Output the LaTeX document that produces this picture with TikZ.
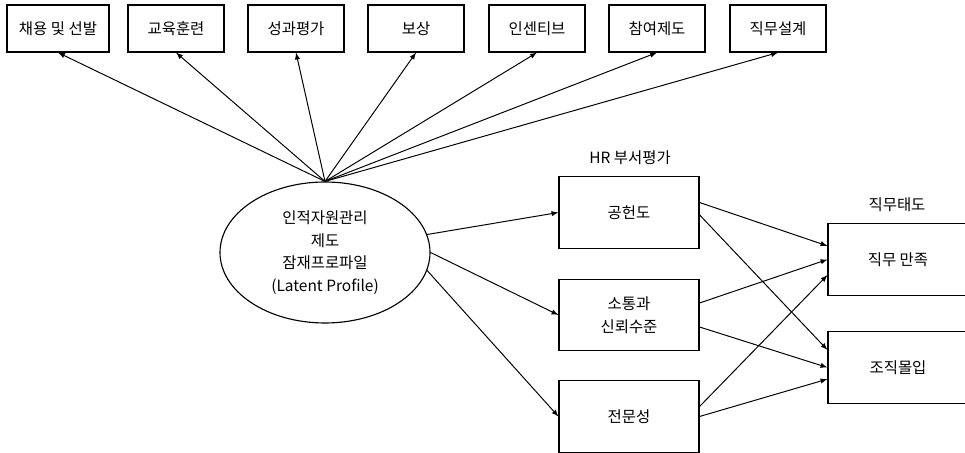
\documentclass[tikz,border=0pt]{standalone}
\usepackage{fontspec}
\setmainfont{Noto Sans CJK KR}
\usepackage{tikz}
\usetikzlibrary{calc}
\usetikzlibrary{shapes.geometric}
\tikzstyle{hrbox} = [
    draw,
    line width=0.8pt,
    rectangle,
    minimum width=2.4cm,
    minimum height=1.175cm,
    inner sep=2pt
    ]
\tikzstyle{evalbox} = [
    draw,
    line width=0.8pt,
    rectangle,
    minimum width=3.5cm,
    minimum height=1.78cm,
    align=center
    ]
\tikzstyle{profile} = [
    draw,
    line width=0.8pt,
    ellipse,
    minimum width=5.25cm,
    minimum height=3.525cm,
    inner sep=0pt,
    align=center
    ]
\tikzstyle{link} = [
    ->,
    >=latex,
    line width=0.7pt
    ]

\begin{document}
\begin{tikzpicture}[font=\fontsize{11pt}{16pt}\selectfont]
\useasboundingbox (0,0) rectangle (24.125,-11.325);

% HR practices
\node [hrbox, minimum width=2.55cm] (hire) at (1.45,-0.7125) {채용 및 선발};
\node [hrbox] (train) at (4.4,-0.7125) {교육훈련};
\node [hrbox] (appr) at (7.4,-0.7125) {성과평가};
\node [hrbox] (comp) at (10.4,-0.7125) {보상};
\node [hrbox] (incent) at (13.425,-0.7125) {인센티브};
\node [hrbox] (partic) at (16.425,-0.7125) {참여제도};
\node [hrbox] (jobdes) at (19.45,-0.7125) {직무설계};

\node [profile] (lp) at (8.125,-6.3125) {인적자원관리\\제도\\잠재프로파일\\(Latent Profile)};

% HR department evaluation
\node at (15.75,-3.95) (evaltitle) {HR 부서평가};
\node [evalbox] (contrib) at (15.725,-5.3125) {공헌도};
\node [evalbox] (trust) at (15.725,-7.875) {소통과\\신뢰수준};
\node [evalbox] (expert) at (15.725,-10.4125) {전문성};

% job attitude
\node at (22.425,-5.125) (atttitle) {직무태도};
\node [evalbox, minimum height=1.8cm] (satis) at (22.45,-6.4875) {직무 만족};
\node [evalbox, minimum height=1.8cm] (commit) at (22.45,-9.1875) {조직몰입};

\draw [link] (lp.north) -- (hire.south);
\draw [link] (lp.north) -- (train.south);
\draw [link] (lp.north) -- (appr.south);
\draw [link] (lp.north) -- (comp.south);
\draw [link] (lp.north) -- (incent.south);
\draw [link] (lp.north) -- (partic.south);
\draw [link] (lp.north) -- (jobdes.south);

\draw [link] (lp.10) -- (contrib.west);
\draw [link] (lp.east) -- (trust.west);
\draw [link] (lp.-10) -- (expert.west);

\draw [link] ([yshift=0.25cm]contrib.east) -- ([yshift=0.34cm]satis.west);
\draw [link] ([yshift=-0.06cm]contrib.east) -- ([yshift=0.44cm]commit.west);
\draw [link] ([yshift=0.3cm]trust.east) -- (satis.west);
\draw [link] ([yshift=-0.3cm]trust.east) -- (commit.west);
\draw [link] ([yshift=0.25cm]expert.east) -- ([yshift=-0.39cm]satis.west);
\draw [link] (expert.east) -- ([yshift=-0.29cm]commit.west);
\end{tikzpicture}
\end{document}
